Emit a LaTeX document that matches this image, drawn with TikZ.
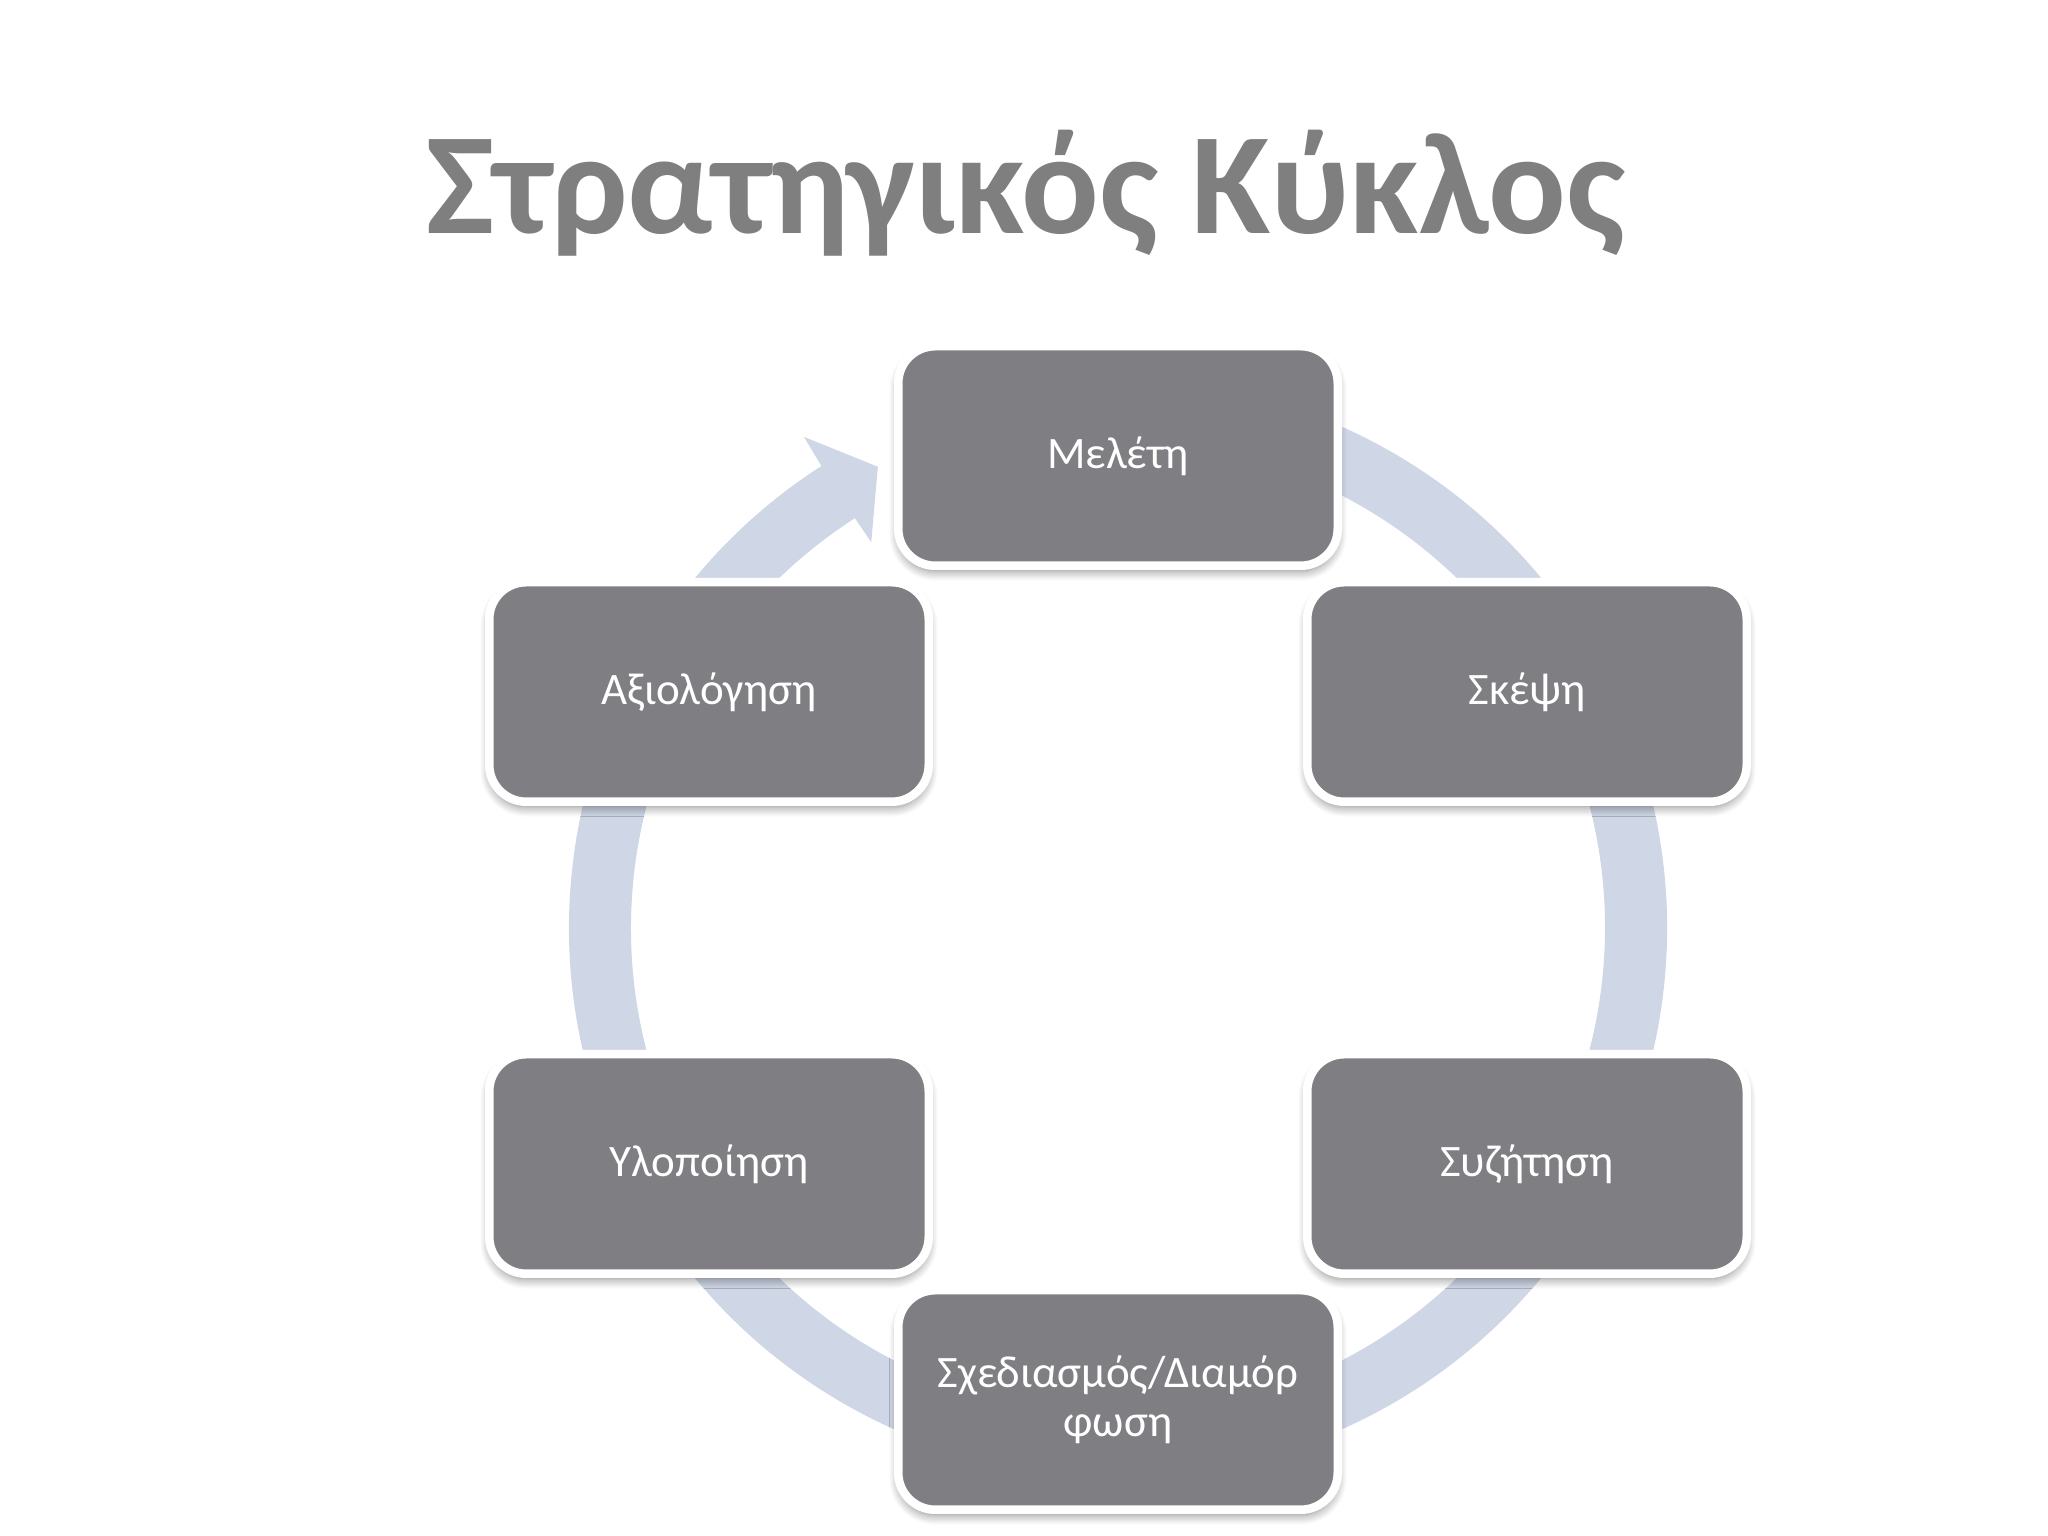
\documentclass[tikz,border=0pt]{standalone}
\usepackage{fontspec}
\setmainfont{Carlito}
\usepackage{tikz}
\tikzset{>=latex}
\usetikzlibrary{shadows.blur}
\definecolor{boxgray}{RGB}{127,126,130}
\definecolor{ringblue}{RGB}{207,214,230}
\definecolor{titlegray}{RGB}{127,127,127}
\tikzset{
    stage/.style={draw=white, line width=0.85mm, fill=boxgray, rounded corners=3.7mm,
        minimum width=43.95mm, minimum height=21.95mm, inner sep=0pt, align=center,
        text=white, font=\fontsize{12.8}{14}\selectfont,
        blur shadow={shadow xshift=0mm, shadow yshift=-0.6mm, shadow blur radius=0.9mm,
            shadow blur steps=8, shadow opacity=45}},
    heading/.style={text=titlegray, inner sep=0pt, font=\bfseries\fontsize{41.2}{48}\selectfont}
}

\begin{document}
\begin{tikzpicture}
    \useasboundingbox(0, 0)rectangle(20.48, 15.36);
    \coordinate(C)at(11.18, 6.08);
    \node[heading, anchor=base](title)at(10.26, 13.02){Στρατηγικός Κύκλος};
    % ring behind the stages, arrow head at the top left
    \begin{scope}[shift={(C)}]
        \fill[ringblue](110:5.49)arc[start angle=110, end angle=-237.3, radius=5.49]
            --(122.6:5.83)--(117.5:5.20)--(122.6:4.58)--(122.7:4.87)
            arc[start angle=-237.3, end angle=110, radius=4.87]--cycle;
    \end{scope}
    \node[stage](study)at(11.18, 10.80){Μελέτη};
    \node[stage](thought)at(15.27, 8.44){Σκέψη};
    \node[stage](debate)at(15.27, 3.72){Συζήτηση};
    \node[stage](design)at(11.18, 1.36){Σχεδιασμός/Διαμόρ\\φωση};
    \node[stage](build)at(7.09, 3.72){Υλοποίηση};
    \node[stage](review)at(7.09, 8.44){Αξιολόγηση};
\end{tikzpicture}
\end{document}
